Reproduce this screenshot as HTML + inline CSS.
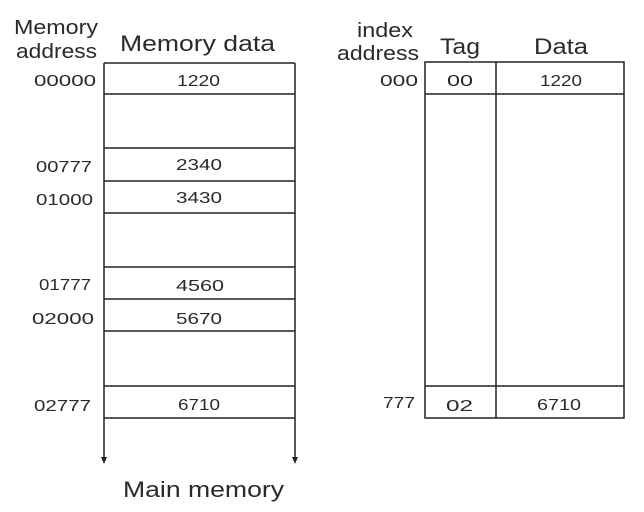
<!DOCTYPE html>
<html><head><meta charset="utf-8"><style>html,body{margin:0;padding:0;background:#fff}svg{display:block}text{font-family:"Liberation Sans",sans-serif;fill:#2a2a2a}</style></head>
<body>
<svg width="644" height="512" viewBox="0 0 644 512">
<g stroke="#222" stroke-width="1.5" fill="none">
<line x1="104" y1="63" x2="104" y2="458"/>
<line x1="295" y1="63" x2="295" y2="458"/>
<line x1="104" y1="63" x2="295" y2="63"/>
<line x1="104" y1="94" x2="295" y2="94"/>
<line x1="104" y1="148" x2="295" y2="148"/>
<line x1="104" y1="181" x2="295" y2="181"/>
<line x1="104" y1="213" x2="295" y2="213"/>
<line x1="104" y1="267" x2="295" y2="267"/>
<line x1="104" y1="299" x2="295" y2="299"/>
<line x1="104" y1="331" x2="295" y2="331"/>
<line x1="104" y1="386" x2="295" y2="386"/>
<line x1="104" y1="418" x2="295" y2="418"/>
<rect x="425" y="62" width="199" height="356"/>
<line x1="496" y1="62" x2="496" y2="418"/>
<line x1="425" y1="94" x2="624" y2="94"/>
<line x1="425" y1="386" x2="624" y2="386"/>
</g>
<polygon points="101,457 107,457 104,464" fill="#222"/>
<polygon points="292,457 298,457 295,464" fill="#222"/>
<g font-size="16">
<text x="34" y="86" textLength="62" lengthAdjust="spacingAndGlyphs">00000</text>
<text x="36" y="172" textLength="56" lengthAdjust="spacingAndGlyphs">00777</text>
<text x="36" y="205" textLength="57" lengthAdjust="spacingAndGlyphs">01000</text>
<text x="39" y="290" textLength="52" lengthAdjust="spacingAndGlyphs">01777</text>
<text x="32" y="324" textLength="62" lengthAdjust="spacingAndGlyphs">02000</text>
<text x="34" y="411" textLength="57" lengthAdjust="spacingAndGlyphs">02777</text>
<text x="380" y="86" textLength="38" lengthAdjust="spacingAndGlyphs">000</text>
<text x="383" y="408" textLength="32" lengthAdjust="spacingAndGlyphs">777</text>
<text x="177" y="86" textLength="43" lengthAdjust="spacingAndGlyphs">1220</text>
<text x="176" y="170" textLength="46" lengthAdjust="spacingAndGlyphs">2340</text>
<text x="176" y="203" textLength="46" lengthAdjust="spacingAndGlyphs">3430</text>
<text x="176" y="291" textLength="48" lengthAdjust="spacingAndGlyphs">4560</text>
<text x="176" y="324" textLength="46" lengthAdjust="spacingAndGlyphs">5670</text>
<text x="178" y="410" textLength="42" lengthAdjust="spacingAndGlyphs">6710</text>
<text x="447" y="86" textLength="26" lengthAdjust="spacingAndGlyphs">00</text>
<text x="540" y="86" textLength="42" lengthAdjust="spacingAndGlyphs">1220</text>
<text x="446" y="411" textLength="27" lengthAdjust="spacingAndGlyphs">02</text>
<text x="537" y="410" textLength="44" lengthAdjust="spacingAndGlyphs">6710</text>
</g>
<g font-size="20">
<text x="14" y="34" textLength="84" lengthAdjust="spacingAndGlyphs">Memory</text>
<text x="16" y="58" textLength="81" lengthAdjust="spacingAndGlyphs">address</text>
<text x="357" y="37" textLength="56" lengthAdjust="spacingAndGlyphs">index</text>
<text x="337" y="60" textLength="82" lengthAdjust="spacingAndGlyphs">address</text>
</g>
<g font-size="22">
<text x="120" y="51" textLength="155" lengthAdjust="spacingAndGlyphs">Memory data</text>
<text x="440" y="54" textLength="40" lengthAdjust="spacingAndGlyphs">Tag</text>
<text x="534" y="54" textLength="54" lengthAdjust="spacingAndGlyphs">Data</text>
<text x="123" y="497" textLength="161" lengthAdjust="spacingAndGlyphs">Main memory</text>
</g>
</svg>
</body></html>
